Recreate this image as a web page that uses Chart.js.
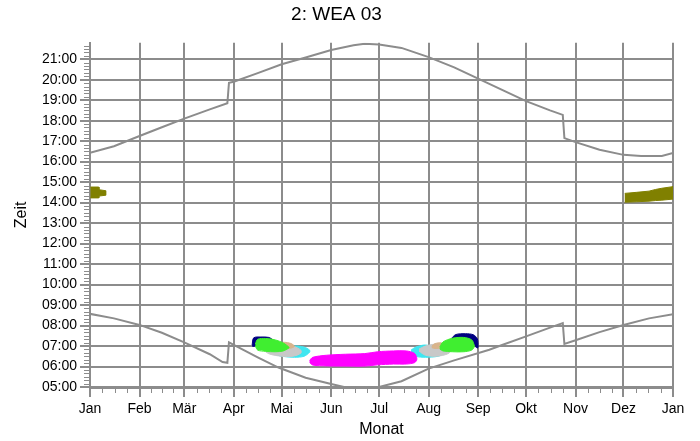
<!DOCTYPE html>
<html lang="de">
<head>
<meta charset="UTF-8">
<title>2: WEA 03</title>
<script src="https://cdn.jsdelivr.net/npm/chart.js"></script>
<style>
  body { margin: 0; background: #ffffff; }
</style>
</head>
<body>
<canvas id="schattenChart" width="700" height="441"></canvas>
<script>
// Achsen
var monatStart = [0, 31, 59, 90, 120, 151, 181, 212, 243, 273, 304, 334, 365];
var monatLabels = ['Jan', 'Feb', 'Mär', 'Apr', 'Mai', 'Jun', 'Jul', 'Aug', 'Sep', 'Okt', 'Nov', 'Dez', 'Jan'];
var zeitWerte = [5, 6, 7, 8, 9, 10, 11, 12, 13, 14, 15, 16, 17, 18, 19, 20, 21];
var zeitLabels = ['05:00', '06:00', '07:00', '08:00', '09:00', '10:00', '11:00', '12:00', '13:00',
                  '14:00', '15:00', '16:00', '17:00', '18:00', '19:00', '20:00', '21:00'];

// Sonnenuntergang / Sonnenaufgang (Tag im Jahr, Stunde)
var untergangTage = [0, 15, 31, 45, 59, 75, 86, 87, 90, 105, 120, 135, 151, 165, 172, 181, 195, 212, 228, 243, 258, 273, 288, 296, 297, 304, 319, 334, 345, 358, 365];
var untergangZeit = [16.43, 16.75, 17.25, 17.68, 18.1, 18.55, 18.85, 19.85, 19.9, 20.32, 20.75, 21.08, 21.45, 21.68, 21.75, 21.72, 21.55, 21.1, 20.6, 20.05, 19.5, 18.95, 18.5, 18.28, 17.15, 16.95, 16.58, 16.33, 16.28, 16.28, 16.42];
var aufgangTage = [0, 15, 31, 45, 59, 75, 83, 86, 87, 93, 105, 118, 135, 151, 159, 172, 181, 195, 212, 228, 250, 258, 273, 288, 296, 297, 304, 319, 334, 350, 365];
var aufgangZeit = [8.57, 8.35, 8.03, 7.65, 7.18, 6.6, 6.22, 6.18, 7.18, 6.93, 6.45, 5.95, 5.45, 5.15, 5.0, 4.96, 5.0, 5.28, 5.9, 6.3, 6.82, 7.05, 7.47, 7.9, 8.12, 7.1, 7.28, 7.68, 8.03, 8.35, 8.55];

// Schattenwurf-Flächen
var janOlivTage = [0.3, 5.5, 5.6, 9.8];
var janOlivOben = [14.76, 14.76, 14.63, 14.58];
var janOlivUnten = [14.23, 14.23, 14.32, 14.36];

var dezOlivTage = [334.8, 342, 350, 354, 358, 365];
var dezOlivOben = [14.45, 14.5, 14.56, 14.64, 14.7, 14.78];
var dezOlivUnten = [14.02, 14.04, 14.07, 14.1, 14.12, 14.17];

var magentaTage = [137.5, 139.5, 148, 160, 172, 180, 190, 198, 203, 204.5];
var magentaOben = [6.3, 6.45, 6.55, 6.6, 6.63, 6.72, 6.76, 6.76, 6.65, 6.45];
var magentaUnten = [6.2, 6.07, 6.03, 6.02, 6.02, 6.08, 6.12, 6.12, 6.18, 6.3];

var fruehNavyTage = [101.5, 102.5, 107, 112, 114.5];
var fruehNavyOben = [7.05, 7.4, 7.44, 7.42, 7.3];
var fruehNavyUnten = [7.0, 6.98, 7.1, 7.2, 7.28];
var fruehGruenTage = [103.5, 105, 110, 116, 121, 124.5];
var fruehGruenOben = [7.1, 7.33, 7.37, 7.3, 7.15, 6.95];
var fruehGruenUnten = [7.0, 6.8, 6.74, 6.72, 6.76, 6.9];
var fruehSilberTage = [108, 112, 120, 127, 132];
var fruehSilberOben = [6.95, 7.05, 7.1, 7.0, 6.8];
var fruehSilberUnten = [6.85, 6.62, 6.5, 6.5, 6.65];
var fruehCyanTage = [115, 120, 128, 134, 137.5];
var fruehCyanOben = [6.7, 6.85, 7.0, 6.95, 6.8];
var fruehCyanUnten = [6.6, 6.5, 6.45, 6.5, 6.7];
var fruehTanTage = [119, 121, 126, 128];
var fruehTanOben = [7.05, 7.18, 7.12, 7.0];
var fruehTanUnten = [6.95, 6.88, 6.9, 6.98];

var herbstCyanTage = [201, 204, 210, 218, 222];
var herbstCyanOben = [6.8, 6.95, 7.05, 6.9, 6.75];
var herbstCyanUnten = [6.7, 6.5, 6.45, 6.5, 6.65];
var herbstSilberTage = [206, 210, 217, 224, 227];
var herbstSilberOben = [6.85, 7.0, 7.1, 7.05, 6.95];
var herbstSilberUnten = [6.75, 6.55, 6.5, 6.62, 6.85];
var herbstTanTage = [214, 216, 220, 222];
var herbstTanOben = [7.0, 7.12, 7.15, 7.02];
var herbstTanUnten = [6.92, 6.88, 6.9, 6.96];
var herbstNavyTage = [226, 229, 235, 240, 242.5, 243];
var herbstNavyOben = [7.35, 7.56, 7.6, 7.55, 7.35, 7.0];
var herbstNavyUnten = [7.3, 7.35, 7.2, 7.05, 6.9, 6.95];
var herbstGruenTage = [219, 221, 227, 234, 239, 240.5];
var herbstGruenOben = [6.95, 7.2, 7.38, 7.42, 7.3, 7.05];
var herbstGruenUnten = [6.85, 6.76, 6.72, 6.72, 6.8, 6.95];

var grau = '#8c8c8c';
var schrift = "'Liberation Sans', Arial, sans-serif";

function kurve(tage, zeit) {
  return {
    data: tage.map(function (d, i) { return { x: d, y: zeit[i] }; }),
    borderColor: grau,
    borderWidth: 2,
    pointRadius: 0,
    fill: false,
    tension: 0,
    order: 0
  };
}

// geschlossene Fläche: oben vorwärts, unten rückwärts
function flaeche(tage, oben, unten, farbe, order, rund) {
  var pts = tage.map(function (d, i) { return { x: d, y: oben[i] }; });
  for (var i = tage.length - 1; i >= 0; i--) {
    pts.push({ x: tage[i], y: unten[i] });
  }
  return {
    data: pts,
    borderColor: farbe,
    backgroundColor: farbe,
    borderWidth: 1,
    pointRadius: 0,
    fill: 'shape',
    tension: rund === false ? 0 : 0.3,
    order: order
  };
}

var nebenStriche = {
  id: 'nebenStriche',
  afterDraw: function (chart) {
    var ctx = chart.ctx, x = chart.scales.x, y = chart.scales.y, area = chart.chartArea;
    ctx.save();
    ctx.strokeStyle = grau;
    ctx.lineWidth = 1;
    ctx.beginPath();
    for (var i = 0; i < monatStart.length - 1; i++) {
      var len = monatStart[i + 1] - monatStart[i];
      for (var k = 1; k < 4; k++) {
        var px = Math.round(x.getPixelForValue(monatStart[i] + len * k / 4)) + 0.5;
        ctx.moveTo(px, area.bottom);
        ctx.lineTo(px, area.bottom + 6);
      }
    }
    for (var m = 5 * 60 + 10; m <= y.max * 60; m += 10) {
      if (m % 60 === 0) continue;
      var py = Math.round(y.getPixelForValue(m / 60)) + 0.5;
      ctx.moveTo(area.left - 6, py);
      ctx.lineTo(area.left, py);
    }
    ctx.stroke();
    ctx.restore();
  }
};

var ctx = document.getElementById('schattenChart').getContext('2d');
new Chart(ctx, {
  type: 'line',
  data: {
    datasets: [
      kurve(untergangTage, untergangZeit),
      kurve(aufgangTage, aufgangZeit),
      flaeche(janOlivTage, janOlivOben, janOlivUnten, '#808000', 1, false),
      flaeche(dezOlivTage, dezOlivOben, dezOlivUnten, '#808000', 1, false),
      flaeche(magentaTage, magentaOben, magentaUnten, '#ff00ff', 1),
      flaeche(fruehGruenTage, fruehGruenOben, fruehGruenUnten, '#40ee30', 1),
      flaeche(fruehNavyTage, fruehNavyOben, fruehNavyUnten, '#000080', 2),
      flaeche(fruehTanTage, fruehTanOben, fruehTanUnten, '#d8b48c', 3),
      flaeche(fruehSilberTage, fruehSilberOben, fruehSilberUnten, '#c8c8c8', 4),
      flaeche(fruehCyanTage, fruehCyanOben, fruehCyanUnten, '#3fe6f0', 5),
      flaeche(herbstGruenTage, herbstGruenOben, herbstGruenUnten, '#40ee30', 1),
      flaeche(herbstNavyTage, herbstNavyOben, herbstNavyUnten, '#000080', 2),
      flaeche(herbstTanTage, herbstTanOben, herbstTanUnten, '#d8b48c', 3),
      flaeche(herbstSilberTage, herbstSilberOben, herbstSilberUnten, '#c8c8c8', 4),
      flaeche(herbstCyanTage, herbstCyanOben, herbstCyanUnten, '#3fe6f0', 5)
    ]
  },
  options: {
    responsive: false,
    animation: false,
    layout: { padding: { left: 0, right: 27, top: 0, bottom: 0 } },
    plugins: {
      legend: { display: false },
      tooltip: { enabled: false },
      title: {
        display: true,
        text: '2: WEA 03',
        color: '#000000',
        font: { family: schrift, size: 19, weight: 'normal', lineHeight: 1.2 },
        padding: { top: 3, bottom: 17 }
      }
    },
    scales: {
      x: {
        type: 'linear',
        min: 0,
        max: 365,
        z: 1,
        afterFit: function (s) { s.height = 54; },
        afterBuildTicks: function (s) {
          s.ticks = monatStart.map(function (v) { return { value: v }; });
        },
        ticks: {
          autoSkip: false,
          maxRotation: 0,
          padding: 4,
          color: '#000000',
          font: { family: schrift, size: 14 },
          callback: function (v, i) { return monatLabels[i]; }
        },
        grid: { color: grau, lineWidth: 2, tickLength: 10 },
        border: { color: grau, width: 3 },
        title: {
          display: true,
          text: 'Monat',
          color: '#000000',
          font: { family: schrift, size: 16, lineHeight: 1.2 },
          padding: { top: 0, bottom: 1.5 }
        }
      },
      y: {
        type: 'linear',
        min: 5,
        max: 21.8,
        z: 1,
        afterFit: function (s) { s.width = 90; },
        afterBuildTicks: function (s) {
          s.ticks = zeitWerte.map(function (v) { return { value: v }; });
        },
        ticks: {
          autoSkip: false,
          padding: 3,
          color: '#000000',
          font: { family: schrift, size: 14 },
          callback: function (v, i) { return zeitLabels[i]; }
        },
        grid: { color: grau, lineWidth: 2, tickLength: 10 },
        border: { color: grau, width: 2 },
        title: {
          display: true,
          text: 'Zeit',
          color: '#000000',
          font: { family: schrift, size: 16, lineHeight: 1.2 },
          padding: { top: 12.4, bottom: 0 }
        }
      }
    }
  },
  plugins: [nebenStriche]
});
</script>
</body>
</html>
